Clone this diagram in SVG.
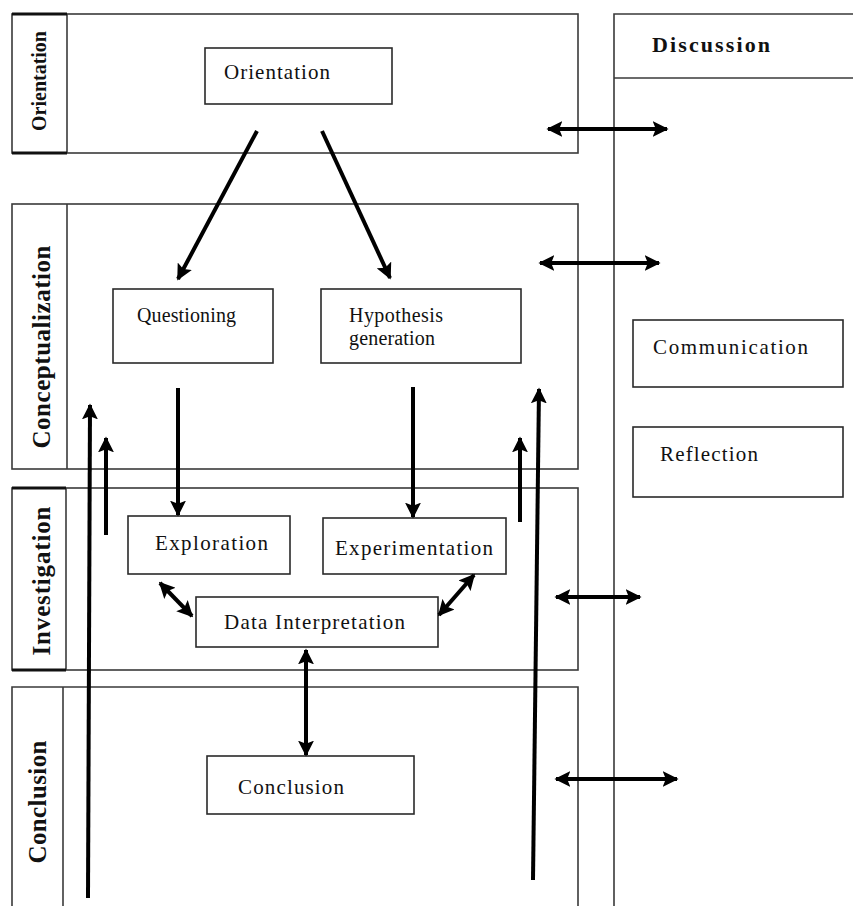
<svg xmlns="http://www.w3.org/2000/svg" width="853" height="906" viewBox="0 0 853 906">
<style>
.panel{fill:none;stroke:#3a3a3a;stroke-width:1.6}
.thick{stroke:#111;stroke-width:3.2;fill:none}
.box{fill:#fff;stroke:#2a2a2a;stroke-width:1.6}
.t{font-family:"Liberation Serif","Times New Roman",serif;font-size:21px;fill:#111}
.lab{font-family:"Liberation Serif","Times New Roman",serif;font-size:25px;font-weight:bold;fill:#111}
.conn line{stroke:#000;stroke-width:4;fill:none}
</style>
<defs>
<marker id="ah" viewBox="0 0 10 10" refX="9" refY="5" markerWidth="16" markerHeight="16" markerUnits="userSpaceOnUse" orient="auto-start-reverse">
<path d="M0,0 L10,5 L0,10 L2,5 z" fill="#000"/>
</marker>
</defs>
<rect width="853" height="906" fill="#fff"/>

<g id="panel-orientation">
<rect class="panel" x="12" y="14" width="566" height="139"/>
<line class="panel" x1="67" y1="14" x2="67" y2="153"/>
<line class="thick" x1="12" y1="14" x2="67" y2="14"/>
<line class="thick" x1="12" y1="153" x2="67" y2="153"/>
<text class="lab" style="font-size:20px" transform="translate(46,81) rotate(-90)" text-anchor="middle" textLength="100" lengthAdjust="spacing">Orientation</text>
</g>

<g id="panel-conceptualization">
<rect class="panel" x="12" y="204" width="566" height="265"/>
<line class="panel" x1="67" y1="204" x2="67" y2="469"/>
<text class="lab" transform="translate(50,347) rotate(-90)" text-anchor="middle" textLength="203" lengthAdjust="spacing">Conceptualization</text>
</g>

<g id="panel-investigation">
<rect class="panel" x="12" y="488" width="566" height="182"/>
<line class="panel" x1="66" y1="488" x2="66" y2="670"/>
<line class="thick" x1="12" y1="488" x2="66" y2="488"/>
<line class="thick" x1="12" y1="670" x2="66" y2="670"/>
<text class="lab" transform="translate(50,581) rotate(-90)" text-anchor="middle" textLength="149" lengthAdjust="spacing">Investigation</text>
</g>

<g id="panel-conclusion">
<path class="panel" d="M12,906 L12,687 L578,687 L578,906"/>
<line class="panel" x1="63" y1="687" x2="63" y2="906"/>
<text class="lab" transform="translate(46,802) rotate(-90)" text-anchor="middle" textLength="123" lengthAdjust="spacing">Conclusion</text>
</g>

<g id="panel-discussion">
<path class="panel" d="M614,906 L614,14 L853,14"/>
<line class="panel" x1="614" y1="78" x2="853" y2="78"/>
<text class="lab" style="font-size:22px" x="652" y="52" textLength="118" lengthAdjust="spacing">Discussion</text>
</g>

<g id="node-orientation">
<rect class="box" x="205" y="48" width="187" height="56"/>
<text class="t" x="224" y="79" textLength="106" lengthAdjust="spacing">Orientation</text>
</g>
<g id="node-questioning">
<rect class="box" x="113" y="289" width="160" height="74"/>
<text class="t" style="font-size:20px" x="137" y="322" textLength="99" lengthAdjust="spacing">Questioning</text>
</g>
<g id="node-hypothesis">
<rect class="box" x="321" y="289" width="200" height="74"/>
<text class="t" style="font-size:20px" x="349" y="322" textLength="94" lengthAdjust="spacing">Hypothesis</text>
<text class="t" style="font-size:20px" x="349" y="345" textLength="86" lengthAdjust="spacing">generation</text>
</g>
<g id="node-exploration">
<rect class="box" x="128" y="516" width="162" height="58"/>
<text class="t" x="155" y="550" textLength="113" lengthAdjust="spacing">Exploration</text>
</g>
<g id="node-experimentation">
<rect class="box" x="323" y="518" width="183" height="56"/>
<text class="t" x="335" y="555" textLength="158" lengthAdjust="spacing">Experimentation</text>
</g>
<g id="node-data-interpretation">
<rect class="box" x="196" y="597" width="242" height="50"/>
<text class="t" x="224" y="629" textLength="181" lengthAdjust="spacing">Data Interpretation</text>
</g>
<g id="node-conclusion">
<rect class="box" x="207" y="756" width="207" height="58"/>
<text class="t" x="238" y="794" textLength="106" lengthAdjust="spacing">Conclusion</text>
</g>
<g id="node-communication">
<rect class="box" x="633" y="320" width="210" height="67"/>
<text class="t" x="653" y="354" textLength="155" lengthAdjust="spacing">Communication</text>
</g>
<g id="node-reflection">
<rect class="box" x="633" y="427" width="210" height="70"/>
<text class="t" x="660" y="461" textLength="98" lengthAdjust="spacing">Reflection</text>
</g>

<g id="connectors" class="conn">
<line x1="257" y1="131" x2="178" y2="279" marker-end="url(#ah)"/>
<line x1="322" y1="131" x2="390" y2="278" marker-end="url(#ah)"/>
<line x1="178" y1="388" x2="178" y2="515" marker-end="url(#ah)"/>
<line x1="413" y1="387" x2="413" y2="517" marker-end="url(#ah)"/>
<line x1="160" y1="583" x2="192" y2="616" marker-start="url(#ah)" marker-end="url(#ah)"/>
<line x1="474" y1="575" x2="439" y2="615" marker-start="url(#ah)" marker-end="url(#ah)"/>
<line x1="306" y1="650" x2="306" y2="755" marker-start="url(#ah)" marker-end="url(#ah)"/>
<line x1="88" y1="898" x2="90" y2="405" marker-end="url(#ah)"/>
<line x1="106" y1="535" x2="106" y2="438" marker-end="url(#ah)"/>
<line x1="533" y1="880" x2="539" y2="389" marker-end="url(#ah)"/>
<line x1="520" y1="522" x2="520" y2="438" marker-end="url(#ah)"/>
<line x1="548" y1="129" x2="667" y2="129" marker-start="url(#ah)" marker-end="url(#ah)"/>
<line x1="540" y1="263" x2="659" y2="263" marker-start="url(#ah)" marker-end="url(#ah)"/>
<line x1="556" y1="597" x2="640" y2="597" marker-start="url(#ah)" marker-end="url(#ah)"/>
<line x1="556" y1="779" x2="677" y2="779" marker-start="url(#ah)" marker-end="url(#ah)"/>
</g>
</svg>
